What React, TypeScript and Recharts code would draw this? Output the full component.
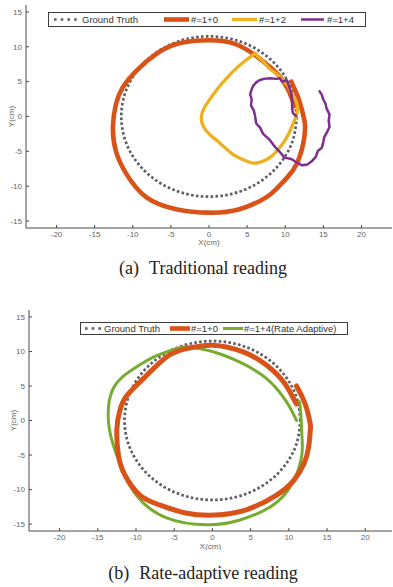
import React from 'react';
import { ScatterChart, Scatter, XAxis, YAxis, Legend } from 'recharts';

// values (cm)
const xTicks = [-20, -15, -10, -5, 0, 5, 10, 15, 20];
const yTicks = [-15, -10, -5, 0, 5, 10, 15];

const groundTruth: [number, number][] = [
  [11.5, 0], [11.11, 2.98], [9.96, 5.75], [8.13, 8.13], [5.75, 9.96], [2.98, 11.11],
  [0, 11.5], [-2.98, 11.11], [-5.75, 9.96], [-8.13, 8.13], [-9.96, 5.75], [-11.11, 2.98],
  [-11.5, 0], [-11.11, -2.98], [-9.96, -5.75], [-8.13, -8.13], [-5.75, -9.96], [-2.98, -11.11],
  [0, -11.5], [2.98, -11.11], [5.75, -9.96], [8.13, -8.13], [9.96, -5.75], [11.11, -2.98], [11.5, 0],
];

const tradOne: [number, number][] = [
  [10.8, 5.0], [11.6, 3.0], [12.1, 1.3], [12.5, -0.5], [12.6, -1.5], [12.5, -3.0], [12.2, -4.6],
  [11.5, -6.8], [10.3, -8.7], [9.0, -10.2], [7.5, -11.6], [4.0, -13.3], [0, -13.8], [-4.3, -13.3],
  [-8.2, -11.6], [-10.8, -8.3], [-12.2, -5.0], [-12.6, -1.5], [-12.2, 1.8], [-11.3, 4.2], [-9.5, 6.6],
  [-6.9, 9.0], [-3.9, 10.5], [0, 10.95], [3.2, 10.5], [5.8, 9.0], [8.0, 7.1], [9.3, 5.7], [10.4, 3.8],
  [11.2, 1.5],
];

const tradTwo: [number, number][] = [
  [6.0, 9.0], [5.6, 8.7], [4.3, 7.6], [3.1, 6.4], [2.0, 5.1], [1.0, 3.8], [0.0, 2.3], [-0.6, 1.3],
  [-1.0, 0.0], [-0.7, -1.5], [0.2, -2.7], [1.3, -3.7], [3.1, -5.4], [4.5, -6.2], [5.8, -6.7],
  [7.1, -6.4], [8.1, -5.8], [9.1, -4.7], [10.2, -3.0], [11.0, -1.1], [11.5, 0.3], [11.6, 1.4],
  [11.3, 2.5], [10.8, 3.4], [10.3, 4.5], [9.6, 5.3], [8.9, 6.1], [8.0, 6.8], [7.2, 7.8], [6.4, 8.6], [6.1, 9.1],
];

const tradFour: [number, number][] = [
  [11.4, 0.1], [11.0, 0.5], [10.9, 1.3], [10.9, 2.3], [10.8, 3.3], [10.5, 4.3], [10.2, 5.2],
  [9.6, 5.0], [9.3, 5.5], [8.8, 5.4], [8.0, 5.5], [7.2, 5.4], [6.6, 5.2], [6.2, 4.9], [5.8, 4.4],
  [5.6, 3.9], [5.4, 3.2], [5.6, 2.4], [5.5, 1.6], [5.9, 0.8], [6.0, 0.3], [6.2, -1.0], [6.7, -1.6],
  [7.1, -2.5], [8.0, -3.4], [8.6, -4.3], [9.3, -5.1], [9.9, -5.9], [10.8, -6.1], [11.5, -6.6],
  [12.2, -7.0], [12.9, -6.9], [13.4, -6.5], [14.0, -5.8], [14.3, -4.9], [14.8, -4.5], [15.0, -3.6],
  [15.1, -3.0], [15.5, -2.2], [15.8, -1.5], [15.7, -0.6], [15.8, 0.3], [15.4, 1.2], [15.3, 1.8],
  [15.0, 2.4], [14.8, 3.1], [14.5, 3.6],
];

const rateOne: [number, number][] = [
  [11.0, 5.0], [11.8, 3.3], [12.4, 1.5], [12.8, -0.5], [12.8, -1.5], [12.6, -3.8], [12.0, -6.2],
  [10.7, -8.6], [8.4, -10.8], [4.5, -12.9], [0.4, -13.7], [-3.5, -13.4], [-7.0, -12.2], [-9.5, -10.8],
  [-11.4, -8.0], [-12.3, -5.0], [-12.5, -1.2], [-12.1, 1.5], [-11.2, 3.6], [-9.0, 6.1], [-6.0, 9.2],
  [-3.4, 10.4], [0, 10.9], [4.1, 9.9], [7.1, 8.0], [9.3, 5.6], [10.6, 3.2], [11.0, 2.4],
];

const rateFour: [number, number][] = [
  [11.4, 2.7], [11.6, 0.5], [11.7, -2.0], [11.7, -5.0], [10.6, -8.8], [8.0, -12.2], [3.6, -14.4],
  [-0.7, -15.1], [-6.0, -14.1], [-10.3, -10.3], [-12.7, -4.5], [-13.6, -0.2], [-13.0, 4.6],
  [-10.3, 7.5], [-7.3, 9.4], [-4.0, 10.6], [-2.7, 10.6], [0, 10.0], [3.6, 8.45], [7.1, 6.05],
  [9.7, 2.7], [11.0, 0.0],
];

const topNames = ['Ground Truth', '#=1+0', '#=1+2', '#=1+4'];
const bottomNames = ['Ground Truth', '#=1+0', '#=1+4(Rate Adaptive)'];

const toPts = (arr: [number, number][]) => arr.map(([x, y]) => ({ x, y }));

const GRAY = '#5e5e66';
const ORANGE = '#D95319';
const YELLOW = '#EDB120';
const PURPLE = '#7E2F8E';
const GREEN = '#77AC30';
const AXIS = '#4a4a4a';
const SANS = '"Liberation Sans", Arial, sans-serif';
const tickStyle = { fontSize: 8, fill: '#666', fontFamily: SANS };

type Series = {
  name: string;
  data: [number, number][];
  color: string;
  width: number;
  dash?: string;
  curve: 'natural' | 'linear';
};

type LegendSlot = { sx: number; sw: number; tx: number; lw: number; dash?: string };

const NoDot = () => null;

function LegendBox({
  w,
  h,
  series,
  slots,
}: {
  w: number;
  h: number;
  series: Series[];
  slots: LegendSlot[];
}) {
  const ih = h - 2;
  return (
    <div
      style={{
        position: 'relative',
        width: w,
        height: h,
        boxSizing: 'border-box',
        border: '1px solid #3c3c3c',
        background: '#fff',
        fontFamily: SANS,
        fontSize: 9.5,
        color: '#333',
      }}
    >
      {series.map((s, i) => (
        <React.Fragment key={s.name}>
          <svg style={{ position: 'absolute', left: slots[i].sx, top: 0 }} width={slots[i].sw} height={ih}>
            <line
              x1={0}
              x2={slots[i].sw}
              y1={ih / 2}
              y2={ih / 2}
              stroke={s.color}
              strokeWidth={slots[i].lw}
              strokeDasharray={slots[i].dash}
            />
          </svg>
          <span style={{ position: 'absolute', left: slots[i].tx, top: 0, lineHeight: `${ih}px`, whiteSpace: 'nowrap' }}>
            {s.name}
          </span>
        </React.Fragment>
      ))}
    </div>
  );
}

function Panel({
  top,
  height,
  marginTop,
  yAxisWidth,
  xAxisHeight,
  xDomain,
  series,
  legendSeries,
  legendBox,
  slots,
  xTitleOffset,
  yTitleX,
}: {
  top: number;
  height: number;
  marginTop: number;
  yAxisWidth: number;
  xAxisHeight: number;
  xDomain: [number, number];
  series: Series[];
  legendSeries: Series[];
  legendBox: { left: number; top: number; w: number; h: number };
  slots: LegendSlot[];
  xTitleOffset: number;
  yTitleX: number;
}) {
  const yMid = marginTop + (height - marginTop - xAxisHeight) / 2;
  return (
    <div style={{ position: 'absolute', left: 0, top, width: 393, height }}>
      <ScatterChart width={393} height={height} margin={{ top: marginTop, right: 1, bottom: 0, left: 0 }}>
        <XAxis
          xAxisId="b"
          type="number"
          dataKey="x"
          domain={xDomain}
          ticks={xTicks}
          interval={0}
          allowDataOverflow
          height={xAxisHeight}
          tickSize={-3}
          tickMargin={6.5}
          tick={tickStyle}
          stroke={AXIS}
          label={{
            value: 'X(cm)',
            position: 'insideTop',
            offset: xTitleOffset,
            style: { fontSize: 8, fill: '#666', fontFamily: SANS },
          }}
        />
        <XAxis
          xAxisId="t"
          orientation="top"
          type="number"
          dataKey="x"
          domain={xDomain}
          ticks={xTicks}
          interval={0}
          allowDataOverflow
          height={0}
          tickSize={-3}
          tick={false}
          stroke={AXIS}
        />
        <YAxis
          yAxisId="l"
          type="number"
          dataKey="y"
          domain={[-16, 16]}
          ticks={yTicks}
          interval={0}
          allowDataOverflow
          width={yAxisWidth}
          tickSize={-3}
          tickMargin={7}
          tick={tickStyle}
          stroke={AXIS}
          label={{
            content: () => (
              <text
                x={yTitleX}
                y={yMid}
                transform={`rotate(-90 ${yTitleX} ${yMid})`}
                textAnchor="middle"
                dominantBaseline="central"
                fontSize={8}
                fill="#666"
                fontFamily={SANS}
              >
                Y(cm)
              </text>
            ),
          }}
        />
        <YAxis
          yAxisId="r"
          orientation="right"
          type="number"
          dataKey="y"
          domain={[-16, 16]}
          ticks={yTicks}
          interval={0}
          allowDataOverflow
          width={0}
          tickSize={-3}
          tick={false}
          stroke={AXIS}
        />
        {series.map((s) => (
          <Scatter
            key={s.name}
            name={s.name}
            xAxisId="b"
            yAxisId="l"
            data={toPts(s.data)}
            fill={s.color}
            line={{
              stroke: s.color,
              strokeWidth: s.width,
              strokeDasharray: s.dash,
              strokeLinejoin: 'round',
              strokeLinecap: s.dash ? 'butt' : 'round',
            }}
            lineType="joint"
            lineJointType={s.curve}
            shape={NoDot}
            isAnimationActive={false}
          />
        ))}
        <Legend
          layout="vertical"
          align="center"
          verticalAlign="middle"
          wrapperStyle={{ left: legendBox.left, top: legendBox.top, width: legendBox.w, height: legendBox.h }}
          content={() => <LegendBox w={legendBox.w} h={legendBox.h} series={legendSeries} slots={slots} />}
        />
      </ScatterChart>
    </div>
  );
}

const captionStyle: React.CSSProperties = {
  position: 'absolute',
  left: 0,
  width: 406,
  textAlign: 'center',
  fontFamily: '"Liberation Serif", "Times New Roman", serif',
  fontSize: 18,
  lineHeight: '18px',
  color: '#222',
  whiteSpace: 'nowrap',
};

export default function App() {
  const topSeries: Series[] = [
    { name: topNames[0], data: groundTruth, color: GRAY, width: 2.7, dash: '2.6 2.3', curve: 'natural' },
    { name: topNames[1], data: tradOne, color: ORANGE, width: 4.6, curve: 'natural' },
    { name: topNames[2], data: tradTwo, color: YELLOW, width: 3.3, curve: 'natural' },
    { name: topNames[3], data: tradFour, color: PURPLE, width: 2.5, curve: 'linear' },
  ];
  const gtB: Series = { name: bottomNames[0], data: groundTruth, color: GRAY, width: 2.7, dash: '2.6 2.3', curve: 'natural' };
  const oneB: Series = { name: bottomNames[1], data: rateOne, color: ORANGE, width: 5, curve: 'natural' };
  const fourB: Series = { name: bottomNames[2], data: rateFour, color: GREEN, width: 3, curve: 'natural' };
  // green drawn under the orange, as in the reference
  const bottomSeries = [gtB, fourB, oneB];
  const bottomLegend = [gtB, oneB, fourB];

  return (
    <div style={{ position: 'absolute', left: 0, top: 0, width: 393, height: 587, background: '#fff' }}>
      <Panel
        top={0}
        height={250}
        marginTop={5}
        yAxisWidth={26}
        xAxisHeight={22}
        xDomain={[-24, 24]}
        series={topSeries}
        legendSeries={topSeries}
        legendBox={{ left: 48, top: 12, w: 318, h: 15 }}
        slots={[
          { sx: 5, sw: 24, tx: 33, lw: 2.6, dash: '2.6 4.1' },
          { sx: 115, sw: 25, tx: 142, lw: 4.6 },
          { sx: 183, sw: 25, tx: 210, lw: 3.3 },
          { sx: 252, sw: 23, tx: 278, lw: 2.5 },
        ]}
        xTitleOffset={11.5}
        yTitleX={11}
      />
      <div style={{ ...captionStyle, top: 259 }}>
        <span>(a)</span>
        <span style={{ marginLeft: 10 }}>Traditional reading</span>
      </div>
      <Panel
        top={295}
        height={255}
        marginTop={15}
        yAxisWidth={29}
        xAxisHeight={19}
        xDomain={[-24, 23.5]}
        series={bottomSeries}
        legendSeries={bottomLegend}
        legendBox={{ left: 80, top: 27, w: 268, h: 13 }}
        slots={[
          { sx: 4, sw: 17, tx: 23, lw: 2.6, dash: '2.6 4.1' },
          { sx: 89, sw: 20, tx: 110, lw: 4.6 },
          { sx: 142, sw: 20, tx: 163, lw: 3 },
        ]}
        xTitleOffset={12}
        yTitleX={13}
      />
      <div style={{ ...captionStyle, top: 564 }}>
        <span>(b)</span>
        <span style={{ marginLeft: 10 }}>Rate-adaptive reading</span>
      </div>
    </div>
  );
}
